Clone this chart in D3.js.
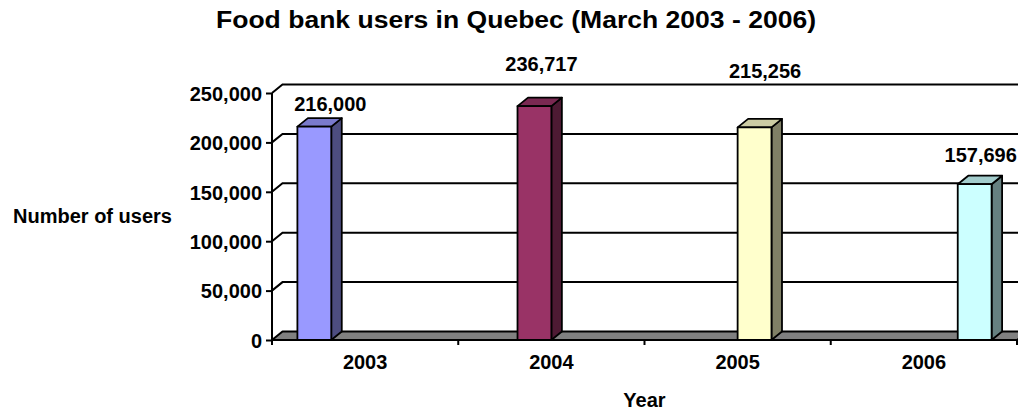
<!DOCTYPE html>
<html>
<head>
<meta charset="utf-8">
<script src="https://cdn.jsdelivr.net/npm/d3@7"></script>
<style>
  html, body { margin: 0; padding: 0; background: #fff; }
  svg { display: block; }
  text { font-family: "Liberation Sans", Arial, sans-serif; font-weight: bold; fill: #000; }
</style>
</head>
<body>
<svg id="chart" width="1018" height="410"></svg>
<script>
// ---- data ----
const years = ["2003", "2004", "2005", "2006"];
const users = [216000, 236717, 215256, 157696];
const yTicks = [0, 50000, 100000, 150000, 200000, 250000];
const chartTitle = "Food bank users in Quebec (March 2003 - 2006)";
const xTitle = "Year";
const yTitle = "Number of users";

// ---- styles ----
const frontColors = ["#9999FF", "#993366", "#FFFFCC", "#CCFFFF"];
const sideColors  = ["#4D4D80", "#4D1A33", "#808066", "#668080"];
const topColors   = ["#7A7ACC", "#7A2952", "#CCCCA3", "#A3CCCC"];
// label nudges relative to bar top-front centre (dx, dy)
const labelNudge = [[16, -15.5], [7, -35.5], [10.5, -49.5], [6, -22.5]];

const svg = d3.select("#chart");
const pLeft = 272, pRight = 1017, pTop = 93, pBottom = 340;
const depthX = 10.5, depthY = -8.5;

const x = d3.scaleBand().domain(years).range([pLeft, pRight]).paddingInner(0).paddingOuter(0);
const slot = d3.scaleBand().domain(d3.range(years.length)).range([0, x.bandwidth()])
  .paddingInner(0).paddingOuter(0.75);
const y = d3.scaleLinear().domain([0, 250000]).range([pBottom, pTop]);

// back wall gridlines + left wall diagonals
const grid = svg.append("g");
yTicks.filter(v => v > 0).forEach(v => {
  grid.append("path")
    .attr("d", `M${pLeft},${y(v)} L${pLeft + depthX},${y(v) + depthY} L${pRight + depthX},${y(v) + depthY}`)
    .attr("fill", "none").attr("stroke", "#000").attr("stroke-width", 2);
});

// floor
svg.append("path")
  .attr("d", `M${pLeft},${y(0)} L${pRight},${y(0)} L${pRight + depthX},${y(0) + depthY} L${pLeft + depthX},${y(0) + depthY} Z`)
  .attr("fill", "#808080").attr("stroke", "#000").attr("stroke-width", 2).attr("stroke-linejoin", "round");

// bars
const bars = svg.append("g");
years.forEach((yr, i) => {
  const x0 = x(yr) + slot(i);
  const x1 = x0 + slot.bandwidth();
  const yt = y(users[i]);
  const yb = y(0);
  const g = bars.append("g").attr("stroke", "#000").attr("stroke-width", 1.8).attr("stroke-linejoin", "round");
  g.append("path")
    .attr("d", `M${x1},${yb} L${x1 + depthX},${yb + depthY} L${x1 + depthX},${yt + depthY} L${x1},${yt} Z`)
    .attr("fill", sideColors[i]);
  g.append("path")
    .attr("d", `M${x0},${yt} L${x0 + depthX},${yt + depthY} L${x1 + depthX},${yt + depthY} L${x1},${yt} Z`)
    .attr("fill", topColors[i]);
  g.append("rect")
    .attr("x", x0).attr("y", yt).attr("width", x1 - x0).attr("height", yb - yt)
    .attr("fill", frontColors[i]);

  svg.append("text")
    .attr("x", (x0 + x1) / 2 + labelNudge[i][0])
    .attr("y", yt + labelNudge[i][1])
    .attr("text-anchor", "middle").attr("font-size", 20)
    .text(d3.format(",")(users[i]));
});

// y axis
const yAxis = d3.axisLeft(y).tickValues(yTicks).tickFormat(d3.format(",")).tickSize(6).tickPadding(4);
const ya = svg.append("g").attr("transform", `translate(${pLeft},0)`).call(yAxis);
ya.select(".domain").attr("stroke", "#000").attr("stroke-width", 2).attr("d", `M0,${pTop}V${pBottom}`);
ya.selectAll(".tick line").attr("stroke", "#000").attr("stroke-width", 2);
ya.selectAll(".tick text").attr("font-size", 20).attr("font-family", "Liberation Sans, Arial, sans-serif")
  .attr("font-weight", "bold").attr("fill", "#000").attr("dy", "0.36em");

// x axis
const xAxis = d3.axisBottom(x).tickSize(0).tickPadding(14.5);
const xa = svg.append("g").attr("transform", `translate(0,${pBottom})`).call(xAxis);
xa.select(".domain").attr("stroke", "#000").attr("stroke-width", 2).attr("d", `M${pLeft},0H${pRight}`);
xa.selectAll(".tick text").attr("font-size", 20).attr("font-family", "Liberation Sans, Arial, sans-serif")
  .attr("font-weight", "bold").attr("fill", "#000").attr("dy", "0.71em");
// category boundary ticks
const bounds = years.map(yr => x(yr)).concat([pRight]);
xa.selectAll(".bound").data(bounds).enter().append("line")
  .attr("x1", d => d).attr("x2", d => d).attr("y1", 0).attr("y2", 5)
  .attr("stroke", "#000").attr("stroke-width", 2);

// titles
svg.append("text").attr("x", 516).attr("y", 28).attr("text-anchor", "middle")
  .attr("font-size", 23).attr("textLength", 600).attr("lengthAdjust", "spacingAndGlyphs").text(chartTitle);
svg.append("text").attr("x", (pLeft + pRight) / 2).attr("y", 407).attr("text-anchor", "middle")
  .attr("font-size", 20).text(xTitle);
svg.append("text").attr("x", 92.5).attr("y", 223).attr("text-anchor", "middle")
  .attr("font-size", 20).text(yTitle);
</script>
</body>
</html>
